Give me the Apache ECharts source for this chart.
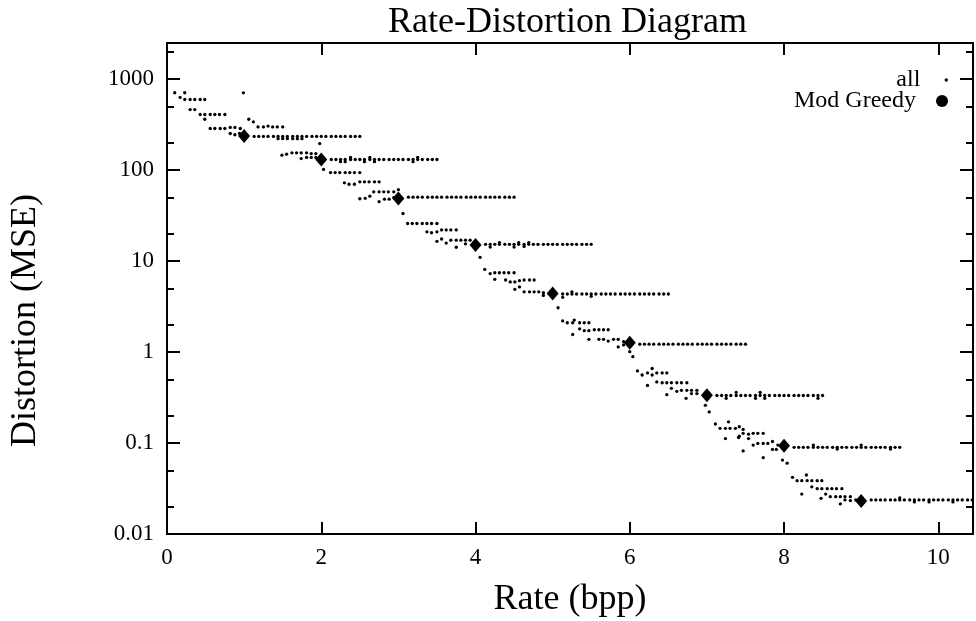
<!DOCTYPE html>
<html>
<head>
<meta charset="utf-8">
<script src="https://cdn.jsdelivr.net/npm/echarts@6/dist/echarts.min.js"></script>
<style>
  html, body { margin: 0; padding: 0; background: #fff; }
  #chart { width: 976px; height: 621px; }
</style>
</head>
<body>
<div id="chart"></div>
<script>
// ---- Mod Greedy operating points ----
const greedyRate = [1, 2, 3, 4, 5, 6, 7, 8, 9];
const greedyDist = [237, 131, 48.8, 15.0, 4.41, 1.27, 0.336, 0.0935, 0.0231];

// ---- "all": staircase points between greedy points [rate, distortion] ----
const stairs0 = [[0.1,710],[0.23,710],[0.17,630],
  [0.23,598],[0.3,598],[0.36,598],[0.43,598],[0.49,598],
  [0.3,464],[0.36,464],
  [0.43,409],[0.49,409],[0.56,409],[0.62,409],[0.68,409],[0.75,409],[0.49,363],
  [0.56,287],[0.62,287],[0.69,287],[0.75,287],[0.82,295],[0.88,295],[0.95,287],
  [0.82,253],[0.88,245],[0.94,253],[0.99,708]];
const stairs1 = [[1.06,363],[1.12,340],
  [1.18,299],[1.25,299],[1.31,305],[1.37,299],[1.43,299],[1.5,299],
  [1.49,146],[1.55,150],[1.62,155],[1.68,155],[1.74,155],[1.81,155],[1.87,152],[1.93,152],
  [1.74,134],[1.81,138],[1.87,138],[1.93,138],[1.98,196]];
const stairs2 = [[2.03,102],
  [2.12,94],[2.18,94],[2.24,94],[2.31,94],[2.37,94],[2.43,94],[2.5,94],
  [2.3,72.5],[2.36,70],[2.43,70],
  [2.5,74.5],[2.56,74.5],[2.62,74.5],[2.69,74.5],[2.75,74.5],
  [2.68,57.8],[2.75,57.8],[2.81,57.8],[2.87,57.8],[2.94,57.8],
  [2.5,48.5],[2.57,49],[2.63,51.7],
  [2.75,45],[2.82,48],[2.88,48],[2.94,50],[3.0,61]];
const stairs3 = [[3.06,33.4],
  [3.12,25.9],[3.18,25.9],[3.24,25.9],[3.31,25.9],[3.37,25.9],[3.43,25.9],[3.5,25.9],
  [3.37,21],[3.43,20.5],[3.5,21],[3.56,22],[3.62,22],[3.68,22],[3.75,22],
  [3.5,16.5],[3.56,17.5],[3.62,15.8],[3.68,17],[3.75,17],[3.81,17],[3.87,17],[3.93,17],
  [3.75,14.2],[3.87,15.5]];
const stairs4 = [[4.06,11],
  [4.12,8.1],[4.19,7.3],[4.25,7.45],[4.31,7.45],[4.37,7.45],[4.43,7.45],[4.5,7.45],
  [4.25,6.3],[4.39,6.2],[4.45,5.9],[4.51,5.9],[4.57,6.1],[4.63,6.2],[4.7,6.2],[4.76,6.2],
  [4.51,4.9],[4.57,5.2],
  [4.63,4.6],[4.7,4.6],[4.76,4.6],[4.82,4.6],[4.88,4.5],[4.88,4.2]];
const stairs5 = [[5.07,3.07],
  [5.13,2.2],[5.19,2.1],[5.26,2.1],[5.28,2.25],[5.35,2.1],[5.41,2.1],[5.47,2.1],
  [5.35,1.8],[5.41,1.72],[5.47,1.72],[5.54,1.76],[5.6,1.76],[5.66,1.76],[5.72,1.76],
  [5.26,1.56],
  [5.47,1.38],[5.6,1.38],[5.66,1.38],[5.72,1.32],[5.79,1.38],[5.85,1.38],
  [5.85,1.14],[5.92,1.3],[5.92,1.2]];
const stairs6 = [[6.0,1.01],[6.04,0.89],
  [6.1,0.62],[6.16,0.56],[6.23,0.59],[6.29,0.66],[6.29,0.56],[6.35,0.59],[6.42,0.59],[6.48,0.59],
  [6.23,0.43],
  [6.35,0.47],[6.42,0.46],[6.48,0.46],[6.54,0.46],[6.61,0.46],[6.67,0.46],[6.74,0.46],
  [6.54,0.4],[6.48,0.34],
  [6.61,0.37],[6.67,0.38],[6.74,0.38],[6.8,0.38],[6.8,0.35],[6.87,0.38],[6.87,0.35],
  [6.73,0.31]];
const stairs7 = [[6.98,0.26],[7.03,0.22],
  [7.11,0.162],[7.17,0.145],[7.24,0.145],[7.28,0.171],[7.3,0.145],[7.37,0.145],
  [7.24,0.112],[7.41,0.115],
  [7.42,0.151],[7.47,0.141],[7.42,0.119],[7.47,0.128],[7.54,0.125],[7.54,0.112],[7.6,0.128],[7.66,0.128],[7.73,0.128],
  [7.47,0.082],
  [7.6,0.095],[7.66,0.099],[7.73,0.099],[7.79,0.099],[7.85,0.104],[7.85,0.085],[7.9,0.085],[7.92,0.095],
  [7.73,0.069]];
const stairs8 = [[7.98,0.065],[8.04,0.06],
  [8.11,0.042],[8.17,0.0386],[8.23,0.0386],[8.29,0.0445],[8.3,0.0386],[8.36,0.0386],[8.43,0.0386],[8.49,0.0386],
  [8.23,0.0275],
  [8.36,0.033],[8.43,0.0315],[8.49,0.0315],[8.56,0.0315],[8.62,0.0315],[8.68,0.0315],[8.75,0.0315],
  [8.48,0.0247],[8.54,0.0275],[8.6,0.0257],[8.67,0.0257],[8.73,0.0257],[8.79,0.0257],[8.79,0.0237],
  [8.86,0.0257],[8.73,0.0214],[8.86,0.0233],[8.93,0.0237]];

// ---- "all": horizontal rows to the right of each greedy point ----
const rowDist = [235, 131, 50.5, 15.3, 4.35, 1.22, 0.333, 0.0897, 0.0237];
const row1Rate = [1.13,1.19,1.25,1.31,1.38,1.44,1.5,1.56,1.63,1.69,1.75,1.81,1.88,1.94,2,2.06,2.13,2.19,2.25,2.31,2.38,2.44,2.5];
const row2Rate = [2.13,2.19,2.25,2.31,2.38,2.44,2.5,2.56,2.63,2.69,2.75,2.81,2.88,2.94,3,3.06,3.13,3.19,3.25,3.31,3.38,3.44,3.5];
const row3Rate = [3.13,3.19,3.25,3.31,3.38,3.44,3.5,3.56,3.63,3.69,3.75,3.81,3.88,3.94,4,4.06,4.13,4.19,4.25,4.31,4.38,4.44,4.5];
const row4Rate = [4.13,4.19,4.25,4.31,4.38,4.44,4.5,4.56,4.63,4.69,4.75,4.81,4.88,4.94,5,5.06,5.13,5.19,5.25,5.31,5.38,5.44,5.5];
const row5Rate = [5.13,5.19,5.25,5.31,5.38,5.44,5.5,5.56,5.63,5.69,5.75,5.81,5.88,5.94,6,6.06,6.13,6.19,6.25,6.31,6.38,6.44,6.5];
const row6Rate = [6.13,6.19,6.25,6.31,6.38,6.44,6.5,6.56,6.63,6.69,6.75,6.81,6.88,6.94,7,7.06,7.13,7.19,7.25,7.31,7.38,7.44,7.5];
const row7Rate = [7.13,7.19,7.25,7.31,7.38,7.44,7.5,7.56,7.63,7.69,7.75,7.81,7.88,7.94,8,8.06,8.13,8.19,8.25,8.31,8.38,8.44,8.5];
const row8Rate = [8.13,8.19,8.25,8.31,8.38,8.44,8.5,8.56,8.63,8.69,8.75,8.81,8.88,8.94,9,9.06,9.13,9.19,9.25,9.31,9.38,9.44,9.5];
const row9Rate = [9.13,9.19,9.25,9.31,9.38,9.44,9.5,9.56,9.63,9.69,9.75,9.81,9.88,9.94,10,10.06,10.13,10.19,10.25,10.31,10.38,10.44];
// doubled dots slightly off the rows
const rowExtras = [[1.44,222],[1.5,222],[1.56,222],[1.63,222],[1.69,222],[1.75,222],
  [2.25,124],[2.31,124],[2.38,138],[2.56,124],[2.63,138],[2.69,124],[3.19,124],[3.25,138],
  [4.19,14.3],[4.31,16],[4.5,14.3],[4.56,16],[4.63,14.5],[4.69,16],
  [5.13,4.0],[5.25,4.6],[5.5,4.1],
  [7.25,0.31],[7.38,0.36],[7.63,0.31],[7.69,0.36],[7.75,0.31],[8.44,0.31],
  [8.38,0.095],[8.69,0.086],[9.0,0.095],[9.38,0.086],
  [9.5,0.025],[9.69,0.0225],[9.88,0.0225],[10.19,0.0225]];

// ---- axis ticks ----
const xTicks = [0, 2, 4, 6, 8, 10];
const yTickLabels = ['0.01', '0.1', '1', '10', '100', '1000'];

// ---- build series data ----
const rowRates = [row1Rate,row2Rate,row3Rate,row4Rate,row5Rate,row6Rate,row7Rate,row8Rate,row9Rate];
let allData = [].concat(stairs0,stairs1,stairs2,stairs3,stairs4,stairs5,stairs6,stairs7,stairs8,rowExtras);
rowRates.forEach((rates, i) => { rates.forEach(r => allData.push([r, rowDist[i]])); });
const greedyData = greedyRate.map((r, i) => [r, greedyDist[i]]);

const FONT = 'Liberation Serif';
const X_MIN = 0, X_MAX = 10.45, Y_MIN = 0.01, Y_MAX = 2500;

function fmtX(v) {
  const r = Math.round(v);
  return (Math.abs(v - r) < 1e-9 && xTicks.indexOf(r) >= 0) ? String(r) : '';
}
function fmtY(v) {
  const e = Math.log10(v), r = Math.round(e);
  if (Math.abs(e - r) > 1e-6) return '';
  const idx = r + 2;
  return (idx >= 0 && idx < yTickLabels.length) ? yTickLabels[idx] : '';
}

const lineStyle = { color: '#000', width: 2 };
function xAx(pos, withLabels) {
  const a = {
    type: 'value', position: pos, min: X_MIN, max: X_MAX, interval: 2,
    axisLine: { show: true, onZero: false, lineStyle: lineStyle },
    axisTick: { show: true, inside: true, length: 12, lineStyle: { color: '#000', width: 2 } },
    axisLabel: { show: withLabels, color: '#000', fontFamily: FONT, fontSize: 23, margin: 12, formatter: fmtX },
    splitLine: { show: false }
  };
  if (withLabels) {
    a.name = 'Rate (bpp)';
    a.nameLocation = 'middle';
    a.nameGap = 48;
    a.nameTextStyle = { color: '#000', fontFamily: FONT, fontSize: 36 };
  }
  return a;
}
// min/max scaled so that the helper axis' decade ticks fall on the 2x / 5x positions of the main axis
function yAx(pos, scale, major, withLabels) {
  const a = {
    type: 'log', logBase: 10, position: pos,
    min: Y_MIN * scale, max: Y_MAX * scale,
    axisLine: { show: major, onZero: false, lineStyle: lineStyle },
    axisTick: { show: true, inside: true, length: major ? 13 : 7, lineStyle: { color: '#000', width: 2 } },
    axisLabel: { show: withLabels, color: '#000', fontFamily: FONT, fontSize: 23, margin: 13, formatter: fmtY },
    splitLine: { show: false }, minorTick: { show: false }
  };
  if (withLabels) {
    a.name = 'Distortion (MSE)';
    a.nameLocation = 'middle';
    a.nameGap = 123;
    a.nameTextStyle = { color: '#000', fontFamily: FONT, fontSize: 36, padding: [0, 64, 0, 0] };
  }
  return a;
}

const chart = echarts.init(document.getElementById('chart'), null, { renderer: 'canvas' });
chart.setOption({
  backgroundColor: '#fff',
  animation: false,
  title: {
    text: 'Rate-Distortion Diagram', left: 388, top: 5, padding: 0,
    textStyle: { color: '#000', fontFamily: FONT, fontSize: 36, fontWeight: 'normal' }
  },
  legend: [
    { data: [{ name: 'all', icon: 'circle' }], orient: 'vertical', align: 'right', right: 28, top: 68,
      itemWidth: 42, itemHeight: 3.4, selectedMode: false, padding: 0,
      textStyle: { color: '#000', fontFamily: FONT, fontSize: 24, lineHeight: 24 } },
    { data: [{ name: 'Mod Greedy', icon: 'circle' }], orient: 'vertical', align: 'right', right: 28, top: 89,
      itemWidth: 42, itemHeight: 12, selectedMode: false, padding: 0,
      textStyle: { color: '#000', fontFamily: FONT, fontSize: 24, lineHeight: 24 } }
  ],
  grid: { left: 167, right: 3, top: 43, bottom: 87, containLabel: false, outerBoundsMode: 'none' },
  xAxis: [xAx('bottom', true), xAx('top', false)],
  yAxis: [
    yAx('left', 1, true, true), yAx('left', 5, false, false), yAx('left', 2, false, false),
    yAx('right', 1, true, false), yAx('right', 5, false, false), yAx('right', 2, false, false)
  ],
  series: [
    { name: 'all', type: 'scatter', xAxisIndex: 0, yAxisIndex: 0, data: allData,
      symbol: 'circle', symbolSize: 3.3, itemStyle: { color: '#000', opacity: 1 }, silent: true, z: 2 },
    { name: 'Mod Greedy', type: 'scatter', xAxisIndex: 0, yAxisIndex: 0, data: greedyData,
      symbol: 'diamond', symbolSize: [12, 14], itemStyle: { color: '#000', opacity: 1 }, silent: true, z: 3 }
  ]
});
</script>
</body>
</html>
